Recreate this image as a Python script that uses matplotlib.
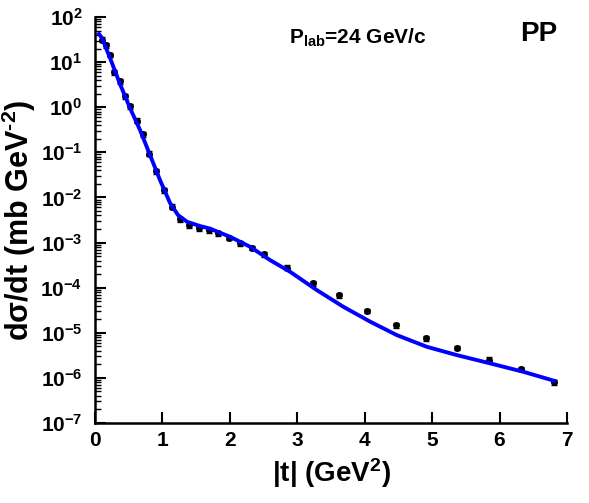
import numpy as np
import matplotlib
matplotlib.use("Agg")
import matplotlib.pyplot as plt
from matplotlib.ticker import LogLocator, NullFormatter, FixedLocator

plt.rcParams["font.family"] = ["Liberation Sans Narrow", "Liberation Sans", "DejaVu Sans"]
plt.rcParams["font.weight"] = "bold"
plt.rcParams["mathtext.fontset"] = "custom"
plt.rcParams["mathtext.rm"] = "Liberation Sans:bold"
plt.rcParams["mathtext.bf"] = "Liberation Sans:bold"
plt.rcParams["mathtext.it"] = "Liberation Sans:bold"

# measured pp elastic cross section, P_lab = 24 GeV/c
t_data = [0.104, 0.159, 0.215, 0.289, 0.364, 0.438, 0.519, 0.616, 0.708, 0.806,
          0.910, 1.019, 1.142, 1.266, 1.399, 1.546, 1.684, 1.818, 1.988, 2.151,
          2.325, 2.507, 2.844, 3.230, 3.625, 4.040, 4.466, 4.911, 5.366, 5.841,
          6.316, 6.810]
dsdt_data = [31.7, 23.9, 14.4, 6.03, 3.81, 1.77, 1.04, 0.507, 0.255, 0.094,
             0.0385, 0.0144, 0.00628, 0.00327, 0.00242, 0.00207, 0.00189, 0.00163,
             0.00128, 9.59e-4, 7.67e-4, 5.56e-4, 2.79e-4, 1.25e-4, 6.79e-5, 3.08e-5,
             1.47e-5, 7.62e-6, 4.63e-6, 2.55e-6, 1.59e-6, 7.93e-7]
rel_err = [0.12, 0.12, 0.12, 0.12, 0.12, 0.12, 0.12, 0.12, 0.12, 0.12,
           0.12, 0.12, 0.12, 0.12, 0.12, 0.12, 0.12, 0.12, 0.12, 0.12,
           0.12, 0.12, 0.12, 0.12, 0.12, 0.12, 0.12, 0.12, 0.12, 0.12,
           0.12, 0.12]

# model curve
t_fit = [0.059, 0.104, 0.223, 0.371, 0.519, 0.668, 0.816, 0.964, 1.113, 1.231,
         1.365, 1.558, 1.706, 1.855, 2.003, 2.300, 2.596, 2.893, 3.289, 3.684,
         4.080, 4.476, 4.921, 5.366, 5.861, 6.355, 6.810]
log_fit = [1.623, 1.534, 1.091, 0.514, -0.018, -0.506, -1.060, -1.614, -2.124, -2.390,
           -2.539, -2.634, -2.690, -2.783, -2.871, -3.093, -3.388, -3.647, -4.053, -4.424,
           -4.752, -5.051, -5.310, -5.494, -5.678, -5.865, -6.064]

x_ticks = [0, 1, 2, 3, 4, 5, 6, 7]
y_decades = [-7, -6, -5, -4, -3, -2, -1, 0, 1, 2]

fig = plt.figure(figsize=(5.89, 5.03), dpi=100)
ax = fig.add_axes([0.1613, 0.159, 0.8013, 0.8072])

dsdt = np.array(dsdt_data)
yerr = dsdt * np.array(rel_err)
ax.errorbar(t_data, dsdt, yerr=yerr, fmt="o", color="black", markersize=4,
            elinewidth=1.0, capsize=2, capthick=1.0, zorder=2)
ax.plot(t_fit, 10.0 ** np.array(log_fit), color="#0000ff", linewidth=2.8, zorder=3)

ax.set_yscale("log")
ax.set_xlim(0, 7)
ax.set_ylim(1e-7, 1e2)

ax.xaxis.set_major_locator(FixedLocator(x_ticks))
ax.yaxis.set_major_locator(FixedLocator([10.0 ** d for d in y_decades]))
ax.yaxis.set_minor_locator(LogLocator(base=10, subs=np.arange(2, 10), numticks=20))
ax.yaxis.set_minor_formatter(NullFormatter())
ax.set_yticklabels([r"$\mathbf{10^{%d}}$" % d for d in y_decades])

ax.tick_params(axis="both", which="major", direction="in", length=8, width=1.5, labelsize=15)
ax.tick_params(axis="y", which="minor", direction="in", length=4, width=1.0)
ax.tick_params(axis="x", pad=6)
ax.tick_params(axis="y", pad=9)
ax.spines["top"].set_visible(False)
ax.spines["right"].set_visible(False)
ax.spines["left"].set_linewidth(1.8)
ax.spines["bottom"].set_linewidth(1.8)

ax.set_xlabel(r"|t| (GeV$^{\mathbf{2}}$)", fontsize=20, fontweight="bold")
ax.set_ylabel("d\u03c3/dt (mb GeV$^{\\mathbf{\u2010 2}}$)", fontsize=22, fontweight="bold",
              family=["Liberation Sans", "DejaVu Sans"], labelpad=2)

ax.text(0.41, 0.935, r"P$_{\mathbf{lab}}$=24 GeV/c", transform=ax.transAxes,
        fontsize=15, fontweight="bold")
ax.text(0.9, 0.94, "PP", transform=ax.transAxes, fontsize=20, fontweight="bold")

fig.savefig("out.png", dpi=100)
